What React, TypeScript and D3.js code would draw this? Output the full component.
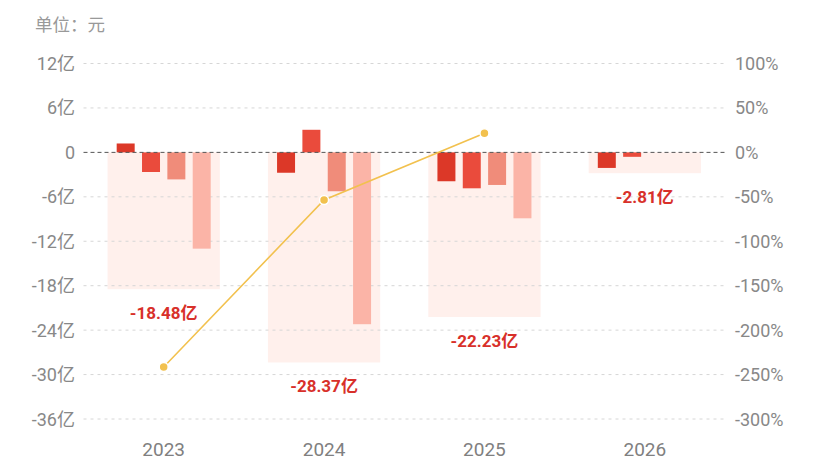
import React from "react";
import * as d3 from "d3";

const years = ["2023", "2024", "2025", "2026"];
const q1 = [1.2, -2.75, -3.9, -2.1];
const q2 = [-2.65, 3.05, -4.85, -0.6];
const q3 = [-3.65, -5.25, -4.4, null];
const q4 = [-13.0, -23.2, -8.9, null];
const totals = [-18.48, -28.37, -22.23, -2.81];
const growth = [-241.5, -53.5, 21.6, null];
const leftTicks = [12, 6, 0, -6, -12, -18, -24, -30, -36];
const rightTicks = [100, 50, 0, -50, -100, -150, -200, -250, -300];

const W = 820;
const H = 460;
const FONT = "Roboto, 'Noto Sans CJK SC', sans-serif";
const barColors = ["#dc3828", "#ea4b3c", "#f08c7a", "#fbb4a7"];

export default function App() {
  const x = d3.scaleBand<string>().domain(years).range([83.5, 725]).padding(0);
  const yL = d3.scaleLinear().domain([-36, 12]).range([419, 63.5]);
  const yR = d3.scaleLinear().domain([-300, 100]).range([419, 63.5]);
  const bgW = x.bandwidth() * 0.7;
  const sub = d3
    .scaleBand<number>()
    .domain([0, 1, 2, 3])
    .range([-bgW / 2, bgW / 2])
    .paddingInner(0.29)
    .paddingOuter(0.36);
  const series = [q1, q2, q3, q4];
  const cx = (y: string) => (x(y) as number) + x.bandwidth() / 2;

  const linePts = years
    .map((y, i) => ({ y, v: growth[i] }))
    .filter((d) => d.v !== null) as { y: string; v: number }[];
  const line = d3
    .line<{ y: string; v: number }>()
    .x((d) => cx(d.y))
    .y((d) => yR(d.v));

  const fmt = (v: number) => (v === 0 ? "0" : `${v}亿`);

  return (
    <svg
      width={W}
      height={H}
      style={{ position: "absolute", left: 0, top: 0, fontFamily: FONT }}
    >
      <rect width={W} height={H} fill="#fff" />
      <text x={35} y={31} fontSize={17.5} fill="#999" fontFamily="'Noto Sans CJK SC', sans-serif">
        单位：元
      </text>

      {years.map((y, i) => (
        <rect
          key={"bg" + y}
          x={cx(y) - bgW / 2}
          y={yL(0)}
          width={bgW}
          height={yL(totals[i]) - yL(0)}
          fill="#fff0ec"
        />
      ))}

      {leftTicks
        .filter((t) => t !== 0)
        .map((t) => (
          <line
            key={"g" + t}
            x1={83.5}
            x2={725}
            y1={yL(t)}
            y2={yL(t)}
            stroke="#d6d6d6"
            strokeDasharray="3,4"
            strokeWidth={1}
          />
        ))}

      {years.map((y, i) =>
        series.map((s, k) => {
          const v = s[i];
          if (v === null || v === undefined) return null;
          const y0 = yL(Math.max(0, v));
          const y1 = yL(Math.min(0, v));
          return (
            <rect
              key={"b" + y + k}
              x={cx(y) + (sub(k) as number)}
              y={y0}
              width={sub.bandwidth()}
              height={y1 - y0}
              fill={barColors[k]}
            />
          );
        })
      )}

      <line
        x1={83.5}
        x2={725}
        y1={yL(0)}
        y2={yL(0)}
        stroke="#555"
        strokeDasharray="4,3"
        strokeWidth={1}
      />

      <path d={line(linePts) || ""} fill="none" stroke="#f2c14e" strokeWidth={1.6} />
      {linePts.map((d) => (
        <circle
          key={"p" + d.y}
          cx={cx(d.y)}
          cy={yR(d.v)}
          r={4.5}
          fill="#f2c14e"
          stroke="#fff"
          strokeWidth={1.5}
        />
      ))}

      {years.map((y, i) => (
        <text
          key={"t" + y}
          x={cx(y)}
          y={yL(totals[i]) + 24}
          textAnchor="middle"
          dominantBaseline="central"
          fontSize={17}
          fontWeight={700}
          fill="#d8302a"
        >
          {totals[i]}亿
        </text>
      ))}

      {leftTicks.map((t) => (
        <text
          key={"l" + t}
          x={75}
          y={yL(t)}
          textAnchor="end"
          dominantBaseline="central"
          fontSize={18}
          fill="#888"
        >
          {fmt(t)}
        </text>
      ))}

      {rightTicks.map((t) => (
        <text
          key={"r" + t}
          x={735}
          y={yR(t)}
          textAnchor="start"
          dominantBaseline="central"
          fontSize={18}
          fill="#888"
        >
          {t}%
        </text>
      ))}

      {years.map((y) => (
        <text
          key={"x" + y}
          x={cx(y)}
          y={456}
          textAnchor="middle"
          fontSize={19}
          fill="#808080"
        >
          {y}
        </text>
      ))}
    </svg>
  );
}
